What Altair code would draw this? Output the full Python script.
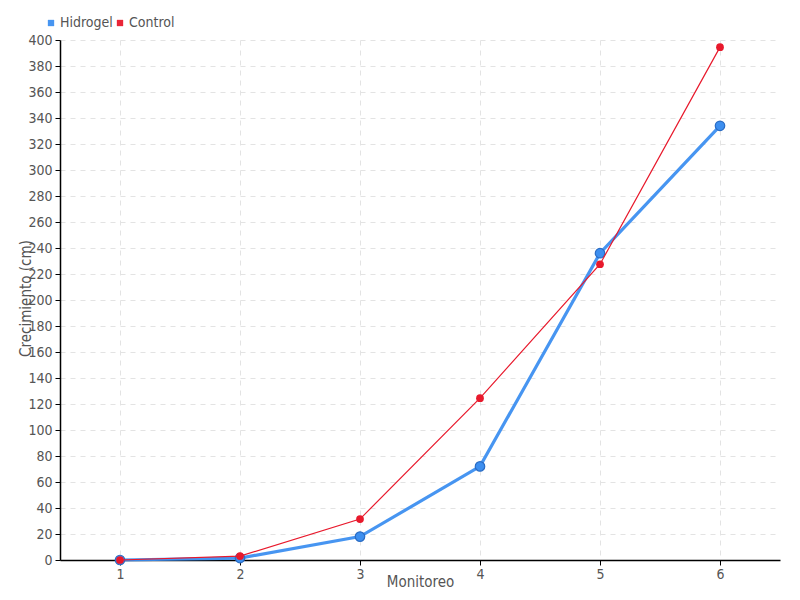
import altair as alt
import pandas as pd

monitoreo = [1, 2, 3, 4, 5, 6]
hidrogel = [0, 1.5, 18, 72, 236, 334]
control = [0, 3, 31.5, 124.5, 227.5, 394.5]
series = ["Hidrogel", "Control"]
colors = ["#3d8ff0", "#e8192c"]

rows = []
for m, h, c in zip(monitoreo, hidrogel, control):
    rows.append({"Monitoreo": m, "Serie": "Hidrogel", "Valor": h})
    rows.append({"Monitoreo": m, "Serie": "Control", "Valor": c})
df = pd.DataFrame(rows)

FONT = "Liberation Sans Narrow, DejaVu Sans Condensed"
GRAY = "#555555"

x = alt.X("Monitoreo:Q",
          scale=alt.Scale(domain=[0.5, 6.5], nice=False, zero=False),
          axis=alt.Axis(values=monitoreo, title="Monitoreo", format="d",
                        titleY=21, titleBaseline="middle"))
y = alt.Y("Valor:Q",
          scale=alt.Scale(domain=[0, 400], nice=False),
          axis=alt.Axis(values=list(range(0, 401, 20)), title="Crecimiento (cm)",
                        titleX=-35, titleY=258, titleAngle=-90,
                        titleBaseline="middle", titleAlign="center"))
color = alt.Color("Serie:N",
                  scale=alt.Scale(domain=series, range=colors),
                  legend=alt.Legend(title=None, orient="none", direction="horizontal",
                                    legendX=-16, legendY=-24, symbolType="square",
                                    symbolSize=40, labelFontSize=14, labelFont=FONT,
                                    labelColor=GRAY, columnPadding=0, labelOffset=2,
                                    symbolStrokeWidth=0))

base = alt.Chart(df).encode(x=x, y=y, color=color)

h_line = base.transform_filter(alt.datum.Serie == "Hidrogel").mark_line(strokeWidth=3.2, opacity=0.95)
h_pts = base.transform_filter(alt.datum.Serie == "Hidrogel").mark_point(
    filled=True, size=90, opacity=1, stroke="#2a6cc4", strokeWidth=1.2)
c_line = base.transform_filter(alt.datum.Serie == "Control").mark_line(strokeWidth=1.2)
c_pts = base.transform_filter(alt.datum.Serie == "Control").mark_point(
    filled=True, size=60, opacity=1)

chart = alt.layer(h_line, h_pts, c_line, c_pts).properties(
    width=720, height=520,
    autosize=alt.AutoSizeParams(type="none"),
    padding={"left": 52, "top": 32, "right": 12, "bottom": 32},
).configure_view(stroke=None).configure_axis(
    domainColor="black", domainWidth=1.5, tickColor="black", tickSize=5,
    labelFont=FONT, labelFontSize=14, labelColor=GRAY,
    titleFont=FONT, titleFontSize=15, titleColor=GRAY, titleFontWeight="normal",
    gridColor="#e3e3e3", gridDash=[5, 5], gridWidth=1,
).configure_axisY(labelPadding=3)

chart.save("out.html", embed_options={"renderer": "svg", "actions": False})
